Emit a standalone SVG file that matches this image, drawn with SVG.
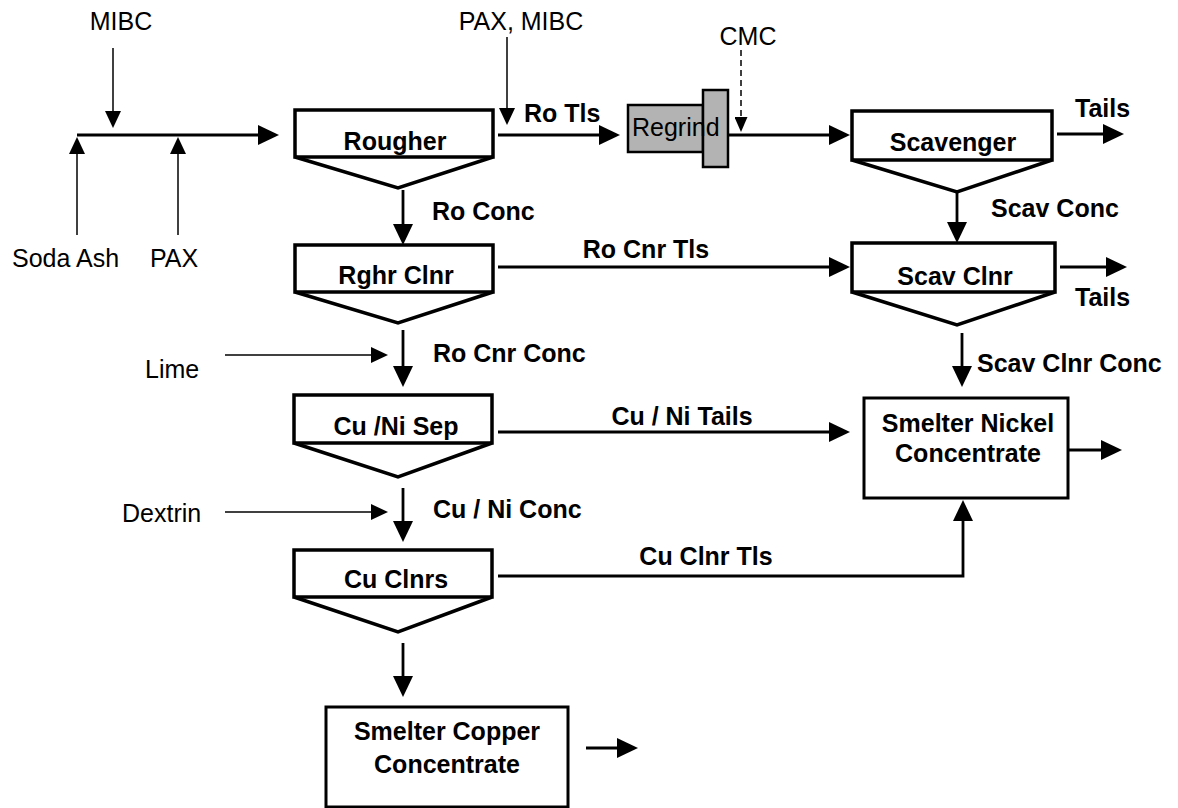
<svg xmlns="http://www.w3.org/2000/svg" width="1178" height="808" viewBox="0 0 1178 808">
<style>
.bg{fill:#ffffff}
.box{fill:#ffffff;stroke:#000;stroke-width:3.5}
.v{fill:none;stroke:#000;stroke-width:3.5;stroke-linejoin:miter}
.res{fill:#ffffff;stroke:#000;stroke-width:3}
.grind{fill:#b3b3b3;stroke:#000;stroke-width:2.5}
.thin{fill:none;stroke:#000;stroke-width:1.5}
.thick{fill:none;stroke:#000;stroke-width:2.8}
.dash{fill:none;stroke:#000;stroke-width:1.5;stroke-dasharray:6 4}
text{font-family:"Liberation Sans",Arial,sans-serif;font-size:25px;fill:#000}
.b{font-weight:bold}
.m{text-anchor:middle}
</style>
<defs>
<marker id="big" markerUnits="userSpaceOnUse" markerWidth="21" markerHeight="20" viewBox="0 0 21 20" refX="15" refY="10" orient="auto"><path d="M0,0 L21,10 L0,20 z" fill="#000"/></marker>
<marker id="small" markerUnits="userSpaceOnUse" markerWidth="17" markerHeight="16" viewBox="0 0 17 16" refX="13" refY="8" orient="auto"><path d="M0,0 L17,8 L0,16 z" fill="#000"/></marker>
<marker id="dsmall" markerUnits="userSpaceOnUse" markerWidth="15" markerHeight="13" viewBox="0 0 15 13" refX="11" refY="6.5" orient="auto"><path d="M0,0 L15,6.5 L0,13 z" fill="#000"/></marker>
</defs>
<rect class="bg" x="0" y="0" width="1178" height="808"/>

<g id="connectors">
<path class="thin" d="M113,48 V124" marker-end="url(#small)"/>
<path class="thin" d="M77,235 V141" marker-end="url(#small)"/>
<path class="thin" d="M178,235 V141" marker-end="url(#small)"/>
<path class="thin" d="M507,37 V121" marker-end="url(#small)"/>
<path class="thin" d="M225,355 H384" marker-end="url(#small)"/>
<path class="thin" d="M225,512 H384" marker-end="url(#small)"/>
<path class="dash" d="M741,50 V128" marker-end="url(#dsmall)"/>
<path class="thick" d="M77,135 H273" marker-end="url(#big)"/>
<path class="thick" d="M498,135 H614" marker-end="url(#big)"/>
<path class="thick" d="M728,135 H844" marker-end="url(#big)"/>
<path class="thick" d="M1057,134 H1118" marker-end="url(#big)"/>
<path class="thick" d="M403,190 V239" marker-end="url(#big)"/>
<path class="thick" d="M957,193 V237" marker-end="url(#big)"/>
<path class="thick" d="M498,267 H844" marker-end="url(#big)"/>
<path class="thick" d="M1060,267 H1121" marker-end="url(#big)"/>
<path class="thick" d="M403,330 V381" marker-end="url(#big)"/>
<path class="thick" d="M962,333 V381" marker-end="url(#big)"/>
<path class="thick" d="M498,432 H844" marker-end="url(#big)"/>
<path class="thick" d="M1068,450 H1116" marker-end="url(#big)"/>
<path class="thick" d="M403,488 V536" marker-end="url(#big)"/>
<path class="thick" d="M498,576 H963 V506" marker-end="url(#big)"/>
<path class="thick" d="M403,643 V691" marker-end="url(#big)"/>
<path class="thick" d="M586,748 H632" marker-end="url(#big)"/>
</g>

<g id="labels">
<text x="121" y="30" class="m">MIBC</text>
<text x="521" y="30" class="m">PAX, MIBC</text>
<text x="748" y="45" class="m">CMC</text>
<text x="12" y="267">Soda Ash</text>
<text x="150" y="267">PAX</text>
<text x="145" y="378">Lime</text>
<text x="122" y="522">Dextrin</text>
<text x="524" y="122" class="b">Ro Tls</text>
<text x="1075" y="117" class="b">Tails</text>
<text x="432" y="220" class="b">Ro Conc</text>
<text x="991" y="217" class="b">Scav Conc</text>
<text x="646" y="258" class="b m">Ro Cnr Tls</text>
<text x="1075" y="306" class="b">Tails</text>
<text x="433" y="362" class="b">Ro Cnr Conc</text>
<text x="977" y="372" class="b">Scav Clnr Conc</text>
<text x="682" y="425" class="b m">Cu / Ni Tails</text>
<text x="433" y="518" class="b">Cu / Ni Conc</text>
<text x="706" y="565" class="b m">Cu Clnr Tls</text>
</g>

<g id="rougher">
<rect class="box" x="295" y="110" width="198" height="47"/>
<polyline class="v" points="295,157 398,188 493,157"/>
<text x="395" y="150" class="b m">Rougher</text>
</g>
<g id="rghr-clnr">
<rect class="box" x="295" y="245" width="198" height="47"/>
<polyline class="v" points="295,292 398,323 493,292"/>
<text x="396" y="284" class="b m">Rghr Clnr</text>
</g>
<g id="cu-ni-sep">
<rect class="box" x="294" y="395" width="198" height="48"/>
<polyline class="v" points="294,443 398,477 492,443"/>
<text x="396" y="435" class="b m">Cu /Ni Sep</text>
</g>
<g id="cu-clnrs">
<rect class="box" x="294" y="550" width="198" height="47"/>
<polyline class="v" points="294,597 398,632 492,597"/>
<text x="396" y="588" class="b m">Cu Clnrs</text>
</g>
<g id="scavenger">
<rect class="box" x="852" y="111" width="200" height="49"/>
<polyline class="v" points="852,160 957,192 1052,160"/>
<text x="953" y="151" class="b m">Scavenger</text>
</g>
<g id="scav-clnr">
<rect class="box" x="852" y="243" width="203" height="49"/>
<polyline class="v" points="852,292 957,325 1055,292"/>
<text x="955" y="285" class="b m">Scav Clnr</text>
</g>
<g id="regrind">
<rect class="grind" x="628" y="105" width="75" height="47"/>
<rect class="grind" x="703" y="90" width="25" height="77"/>
<text x="632" y="136">Regrind</text>
</g>
<g id="smelter-nickel">
<rect class="res" x="864" y="398" width="204" height="100"/>
<text x="968" y="432" class="b m">Smelter Nickel</text>
<text x="968" y="462" class="b m">Concentrate</text>
</g>
<g id="smelter-copper">
<rect class="res" x="326" y="707" width="242" height="100"/>
<text x="447" y="740" class="b m">Smelter Copper</text>
<text x="447" y="773" class="b m">Concentrate</text>
</g>
</svg>
